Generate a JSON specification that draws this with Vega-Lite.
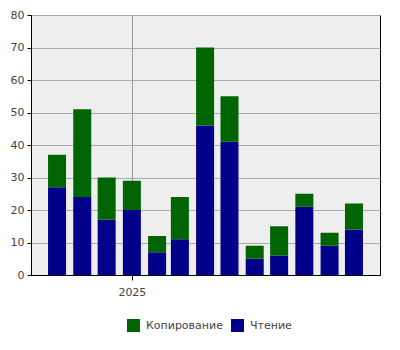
{
  "$schema": "https://vega.github.io/schema/vega-lite/v6.json",
  "autosize": "none",
  "padding": {"left": 31, "top": 15, "right": 20, "bottom": 75},
  "width": 349,
  "height": 260,
  "background": "white",
  "data": {"values": [
    {"month": "2024-10-01", "series": "Чтение", "value": 27},
    {"month": "2024-10-01", "series": "Копирование", "value": 10},
    {"month": "2024-11-01", "series": "Чтение", "value": 24},
    {"month": "2024-11-01", "series": "Копирование", "value": 27},
    {"month": "2024-12-01", "series": "Чтение", "value": 17},
    {"month": "2024-12-01", "series": "Копирование", "value": 13},
    {"month": "2025-01-01", "series": "Чтение", "value": 20},
    {"month": "2025-01-01", "series": "Копирование", "value": 9},
    {"month": "2025-02-01", "series": "Чтение", "value": 7},
    {"month": "2025-02-01", "series": "Копирование", "value": 5},
    {"month": "2025-03-01", "series": "Чтение", "value": 11},
    {"month": "2025-03-01", "series": "Копирование", "value": 13},
    {"month": "2025-04-01", "series": "Чтение", "value": 46},
    {"month": "2025-04-01", "series": "Копирование", "value": 24},
    {"month": "2025-05-01", "series": "Чтение", "value": 41},
    {"month": "2025-05-01", "series": "Копирование", "value": 14},
    {"month": "2025-06-01", "series": "Чтение", "value": 5},
    {"month": "2025-06-01", "series": "Копирование", "value": 4},
    {"month": "2025-07-01", "series": "Чтение", "value": 6},
    {"month": "2025-07-01", "series": "Копирование", "value": 9},
    {"month": "2025-08-01", "series": "Чтение", "value": 21},
    {"month": "2025-08-01", "series": "Копирование", "value": 4},
    {"month": "2025-09-01", "series": "Чтение", "value": 9},
    {"month": "2025-09-01", "series": "Копирование", "value": 4},
    {"month": "2025-10-01", "series": "Чтение", "value": 14},
    {"month": "2025-10-01", "series": "Копирование", "value": 8}
  ]},
  "mark": {"type": "bar", "size": 18},
  "encoding": {
    "x": {
      "field": "month", "type": "temporal",
      "scale": {"domain": ["2024-08-30", "2025-11-02"], "nice": false, "padding": 0},
      "axis": {"title": null, "values": ["2025-01-01"], "format": "%Y", "labelColor": "#444", "gridColor": "#999", "gridWidth": 1, "tickSize": 5, "labelPadding": 6, "labelAlign": "center"}
    },
    "y": {
      "field": "value", "type": "quantitative", "aggregate": "sum", "stack": "zero",
      "scale": {"domain": [0, 80], "nice": false, "padding": 0},
      "axis": {"title": null, "values": [0, 10, 20, 30, 40, 50, 60, 70, 80], "labelColor": "#444", "gridColor": "#aaa", "gridWidth": 1, "tickSize": 4, "labelPadding": 3}
    },
    "color": {
      "field": "series", "type": "nominal",
      "scale": {"domain": ["Копирование", "Чтение"], "range": ["#006400", "#00008b"]},
      "legend": {"title": null, "orient": "none", "legendX": 96, "legendY": 304, "direction": "horizontal", "symbolType": "square", "symbolSize": 169, "symbolStrokeWidth": 0, "symbolOpacity": 1, "labelColor": "#444", "labelFontSize": 11, "labelFont": "DejaVu Sans", "columnPadding": 8, "labelOffset": 6}
    },
    "order": {"field": "series", "sort": "descending"}
  },
  "config": {
    "view": {"fill": "#eeeeee", "stroke": "#000", "strokeWidth": 1},
    "axis": {"labelFont": "DejaVu Sans", "labelFontSize": 11, "domainColor": "#000", "tickColor": "#000", "grid": true},
    "axisY": {"domain": true},
    "axisX": {"domain": true}
  }
}
